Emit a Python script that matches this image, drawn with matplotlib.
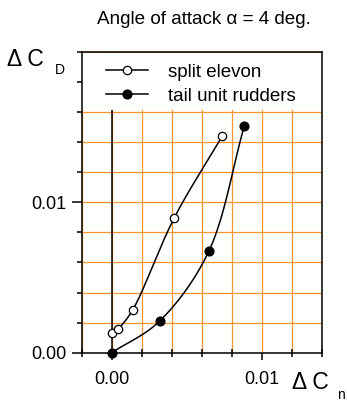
import numpy as np
import matplotlib
matplotlib.use("Agg")
import matplotlib.pyplot as plt
from matplotlib.lines import Line2D
from matplotlib.patches import Rectangle
from matplotlib.ticker import FixedLocator, MultipleLocator, FormatStrFormatter

plt.rcParams['font.family'] = ['Liberation Sans', 'DejaVu Sans']

# measured increments, yawing moment vs drag
elevon_cn = [0.00003, 0.00043, 0.00139, 0.00416, 0.00735]
elevon_cd = [0.00129, 0.00159, 0.00284, 0.00897, 0.01440]
rudder_cn = [0.0, 0.00321, 0.00646, 0.00881]
rudder_cd = [0.0, 0.00213, 0.00676, 0.01506]

major_ticks = [0.0, 0.01]

XLIM = (-0.002, 0.014)
YLIM = (0.0, 0.020)
ORANGE = '#FF9428'


def smooth(xs, ys, n=40):
    # centripetal Catmull-Rom through the points, for drawing the curve only
    sx = XLIM[1] - XLIM[0]
    sy = YLIM[1] - YLIM[0]
    p = np.column_stack([np.asarray(xs) / sx, np.asarray(ys) / sy])
    p = np.vstack([2 * p[0] - p[1], p, 2 * p[-1] - p[-2]])
    out = []
    for i in range(1, len(p) - 2):
        p0, p1, p2, p3 = p[i - 1:i + 3]
        t0 = 0.0
        t1 = t0 + np.linalg.norm(p1 - p0) ** 0.5
        t2 = t1 + np.linalg.norm(p2 - p1) ** 0.5
        t3 = t2 + np.linalg.norm(p3 - p2) ** 0.5
        t = np.linspace(t1, t2, n)[:, None]
        a1 = (t1 - t) / (t1 - t0) * p0 + (t - t0) / (t1 - t0) * p1
        a2 = (t2 - t) / (t2 - t1) * p1 + (t - t1) / (t2 - t1) * p2
        a3 = (t3 - t) / (t3 - t2) * p2 + (t - t2) / (t3 - t2) * p3
        b1 = (t2 - t) / (t2 - t0) * a1 + (t - t0) / (t2 - t0) * a2
        b2 = (t3 - t) / (t3 - t1) * a2 + (t - t1) / (t3 - t1) * a3
        out.append((t2 - t) / (t2 - t1) * b1 + (t - t1) / (t2 - t1) * b2)
    c = np.vstack(out)
    return c[:, 0] * sx, c[:, 1] * sy


fig = plt.figure(figsize=(3.47, 4.01), dpi=100)
ax = fig.add_axes([81.7 / 347, 1 - 352.7 / 401, 240.6 / 347, 301.0 / 401])
ax.set_xlim(*XLIM)
ax.set_ylim(*YLIM)

ax.xaxis.set_major_locator(FixedLocator(major_ticks))
ax.xaxis.set_minor_locator(MultipleLocator(0.002))
ax.yaxis.set_major_locator(FixedLocator(major_ticks))
ax.yaxis.set_minor_locator(MultipleLocator(0.002))
ax.xaxis.set_major_formatter(FormatStrFormatter('%.2f'))
ax.yaxis.set_major_formatter(FormatStrFormatter('%.2f'))
ax.tick_params(axis='x', which='major', direction='out', length=5, width=1.1,
               pad=8, labelsize=13)
ax.tick_params(axis='x', which='minor', direction='inout', length=6, width=1.1)
ax.tick_params(axis='y', which='major', direction='out', length=7, width=1.1,
               pad=4, labelsize=13)
ax.tick_params(axis='y', which='minor', direction='out', length=3.5, width=1.1)
ax.tick_params(top=False, right=False, which='both')
for s in ax.spines.values():
    s.set_linewidth(1.1)

ax.grid(True, which='both', color=ORANGE, linewidth=0.9)
ax.axvline(0.0, color='black', linewidth=1.1, zorder=2)

# white panel behind the legend
ax.add_patch(Rectangle((0, 0.806), 1, 0.189, transform=ax.transAxes,
                       facecolor='white', edgecolor='none', zorder=2.2))

ax.plot(*smooth(elevon_cn, elevon_cd), color='black', lw=1.1, zorder=3)
ax.plot(*smooth(rudder_cn, rudder_cd), color='black', lw=1.1, zorder=3)
ax.plot(elevon_cn, elevon_cd, 'o', ms=6, mfc='white', mec='black', mew=0.9,
        zorder=4, clip_on=False)
ax.plot(rudder_cn, rudder_cd, 'o', ms=6.3, mfc='black', mec='black',
        zorder=4, clip_on=False)

handles = [
    Line2D([], [], color='black', lw=1.1, marker='o', ms=6, mfc='white',
           mec='black', mew=0.9),
    Line2D([], [], color='black', lw=1.1, marker='o', ms=6.3, mfc='black',
           mec='black'),
]
ax.legend(handles, ['split elevon', 'tail unit rudders'], loc='center left',
          bbox_to_anchor=(0.1, 0.892), frameon=False, fontsize=13.5,
          handlelength=2.25, handletextpad=1.05, labelspacing=0.36,
          borderpad=0, borderaxespad=0)

fig.text(204 / 347, 1 - 19 / 401, 'Angle of attack \u03b1 = 4 deg.',
         ha='center', va='center', fontsize=13.6)
fig.text(7 / 347, 1 - 66.5 / 401, '\u0394 C', ha='left', va='baseline',
         fontsize=16.5)
fig.text(55 / 347, 1 - 74 / 401, 'D', ha='left', va='baseline', fontsize=10)
fig.text(292 / 347, 1 - 389 / 401, '\u0394 C', ha='left', va='baseline',
         fontsize=16.5)
fig.text(337 / 347, 1 - 399 / 401, 'n', ha='left', va='baseline', fontsize=10)

fig.savefig('out.png', dpi=100)
